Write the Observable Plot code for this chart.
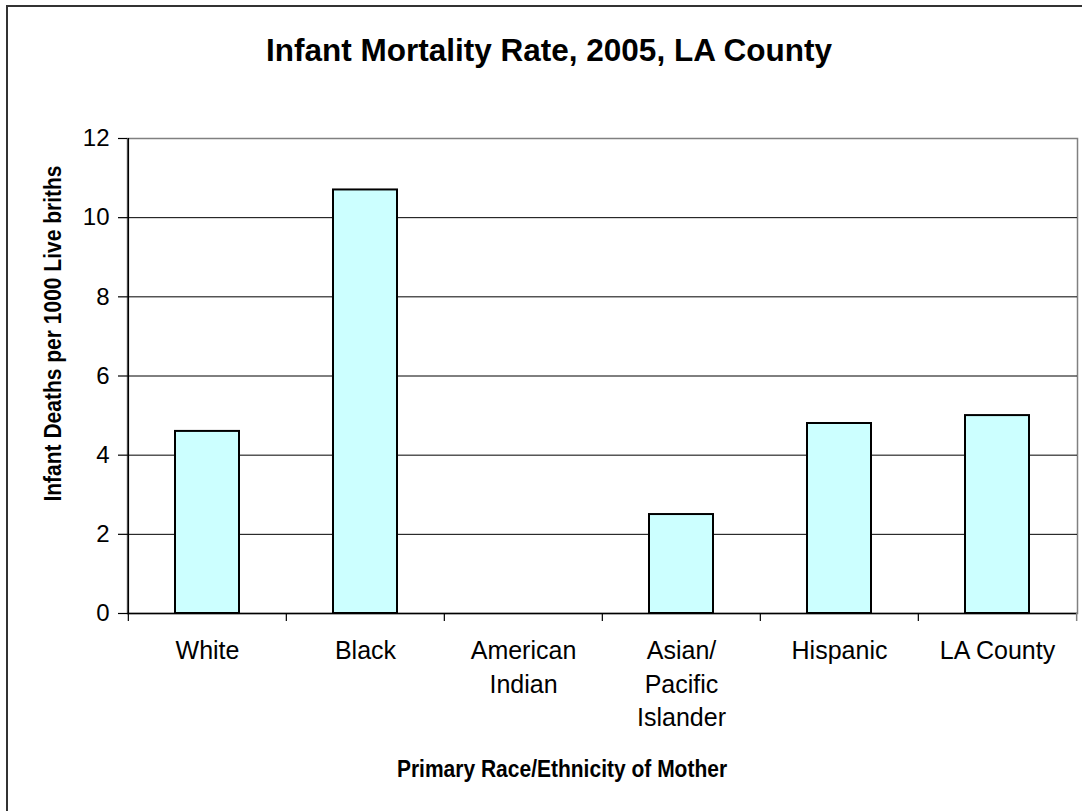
<!DOCTYPE html>
<html>
<head>
<meta charset="utf-8">
<script src="https://cdn.jsdelivr.net/npm/d3@7"></script>
<script src="https://cdn.jsdelivr.net/npm/@observablehq/plot@0.6"></script>
<style>
  html, body { margin: 0; padding: 0; background: #fff; overflow: hidden; }
  #wrap { position: relative; width: 1082px; height: 811px; font-family: "Liberation Sans", Arial, sans-serif; color: #000; }
  #border { position: absolute; left: 6px; top: 5px; width: 1200px; height: 900px; border-left: 2px solid #333; border-top: 2px solid #333; box-sizing: border-box; }
  #chart { position: absolute; left: 0; top: 0; }
  .title { position: absolute; left: 0; width: 1098px; top: 35px; text-align: center; font-weight: bold; font-size: 31.5px; line-height: 31.5px; white-space: nowrap; }
  .xtitle { position: absolute; left: 0; width: 1124px; top: 758px; text-align: center; font-weight: bold; font-size: 21px; line-height: 21px; white-space: nowrap; transform: scaleY(1.15); transform-origin: 50% 50%; }
  .ytitle { position: absolute; left: -148px; width: 400px; top: 323px; text-align: center; font-weight: bold; font-size: 21px; line-height: 21px; white-space: nowrap; transform: rotate(-90deg) scaleY(1.15); transform-origin: 50% 50%; }
</style>
</head>
<body>
<div id="wrap">
  <div id="border"></div>
  <div id="chart"></div>
  <div class="title">Infant Mortality Rate, 2005, LA County</div>
  <div class="ytitle">Infant Deaths per 1000 Live briths</div>
  <div class="xtitle">Primary Race/Ethnicity of Mother</div>
</div>
<script>
const categories = ["White", "Black", "American Indian", "Asian/ Pacific Islander", "Hispanic", "LA County"];
const tickLabels = ["White", "Black", "American\nIndian", "Asian/\nPacific\nIslander", "Hispanic", "LA County"];
const rates = [4.6, 10.7, null, 2.5, 4.8, 5.0];
const yTicks = [0, 2, 4, 6, 8, 10, 12];
const gridTicks = [2, 4, 6, 8, 10];

const data = categories.map((c, i) => ({category: c, rate: rates[i]}));

const W = 1082, H = 811;
const mL = 127, mR = 5, mT = 138, mB = 198;
const bw = (W - mL - mR) / categories.length;

const chart = Plot.plot({
  width: W,
  height: H,
  marginTop: mT,
  marginBottom: mB,
  marginLeft: mL,
  marginRight: mR,
  style: {fontFamily: "'Liberation Sans', Arial, sans-serif", fontSize: "24px", color: "#000", background: "transparent", overflow: "visible"},
  x: {domain: categories, padding: 0, label: null},
  y: {domain: [0, 12], label: null},
  marks: [
    Plot.frame({stroke: "#808080", strokeWidth: 1.5}),
    Plot.gridY(gridTicks, {stroke: "#000", strokeOpacity: 1, strokeWidth: 1}),
    Plot.barY(data.filter(d => d.rate != null), {x: "category", y: "rate", fill: "#CCFFFF", stroke: "#000", strokeWidth: 2, insetLeft: 47, insetRight: 47}),
    Plot.ruleY([0], {stroke: "#000", strokeWidth: 1.5}),
    Plot.gridX(["White"], {dx: -bw / 2, stroke: "#000", strokeOpacity: 1, strokeWidth: 1.5}),
    Plot.axisY(yTicks, {tickSize: 9, tickPadding: 9, fontSize: 24, stroke: "#000", strokeWidth: 1.2, label: null}),
    Plot.axisX({tickSize: 8, tickFormat: () => "", dx: -bw / 2, stroke: "#000", strokeWidth: 1.2, label: null}),
    Plot.axisX(["LA County"], {tickSize: 8, tickFormat: () => "", dx: bw / 2, stroke: "#808080", strokeWidth: 1.5, label: null}),
    Plot.axisX({tickSize: 0, tickPadding: 22, fontSize: 25, lineHeight: 1.34, tickFormat: d => tickLabels[categories.indexOf(d)], label: null})
  ]
});
document.getElementById("chart").appendChild(chart);
</script>
</body>
</html>
